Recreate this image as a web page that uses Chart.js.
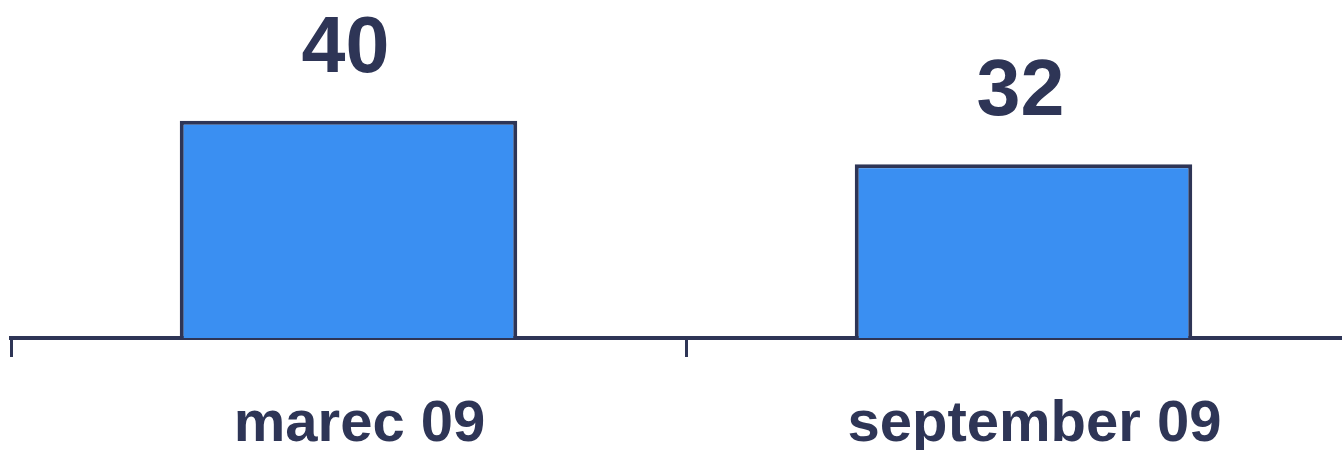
<!DOCTYPE html>
<html>
<head>
<meta charset="utf-8">
<script src="https://cdn.jsdelivr.net/npm/chart.js@4"></script>
<style>
  html, body { margin: 0; padding: 0; background: #fff; overflow: hidden; }
  #wrap { width: 1364px; height: 450px; position: relative; }
</style>
</head>
<body>
<div id="wrap"><canvas id="barChart"></canvas></div>
<script>
const categories = ['marec 09', 'september 09'];
const values = [40, 32];

const navy = '#2e3556';
const blue = '#3a8ff2';

// value labels above the bars
const valueLabels = {
    id: 'valueLabels',
    afterDatasetsDraw(chart) {
        const ctx = chart.ctx;
        const meta = chart.getDatasetMeta(0);
        ctx.save();
        ctx.fillStyle = navy;
        ctx.font = 'bold 79px "Liberation Sans", Arial, sans-serif';
        ctx.textAlign = 'center';
        ctx.textBaseline = 'alphabetic';
        meta.data.forEach((bar, i) => {
            ctx.fillText(String(values[i]), bar.x - 3, bar.y - 49);
        });
        ctx.restore();
    }
};

const ctx = document.getElementById('barChart').getContext('2d');
new Chart(ctx, {
    type: 'bar',
    data: {
        labels: categories,
        datasets: [{
            data: values,
            backgroundColor: blue,
            borderColor: navy,
            borderWidth: 4,
            barPercentage: 0.5,
            categoryPercentage: 1
        }]
    },
    options: {
        responsive: true,
        maintainAspectRatio: false,
        animation: false,
        layout: { padding: { left: 11, right: 3, top: 12, bottom: 0 } },
        plugins: {
            legend: { display: false },
            tooltip: { enabled: false }
        },
        scales: {
            x: {
                z: 1,
                grid: {
                    drawOnChartArea: false,
                    drawTicks: true,
                    tickLength: 19,
                    color: navy,
                    lineWidth: 3
                },
                border: { display: true, color: navy, width: 4 },
                ticks: {
                    color: navy,
                    padding: 39,
                    labelOffset: 11,
                    font: { family: '"Liberation Sans", Arial, sans-serif', size: 58, weight: 'bold', lineHeight: 1 }
                },
                afterFit(axis) { axis.height = 112; }
            },
            y: {
                display: false,
                min: 0,
                max: 60
            }
        }
    },
    plugins: [valueLabels]
});
</script>
</body>
</html>
